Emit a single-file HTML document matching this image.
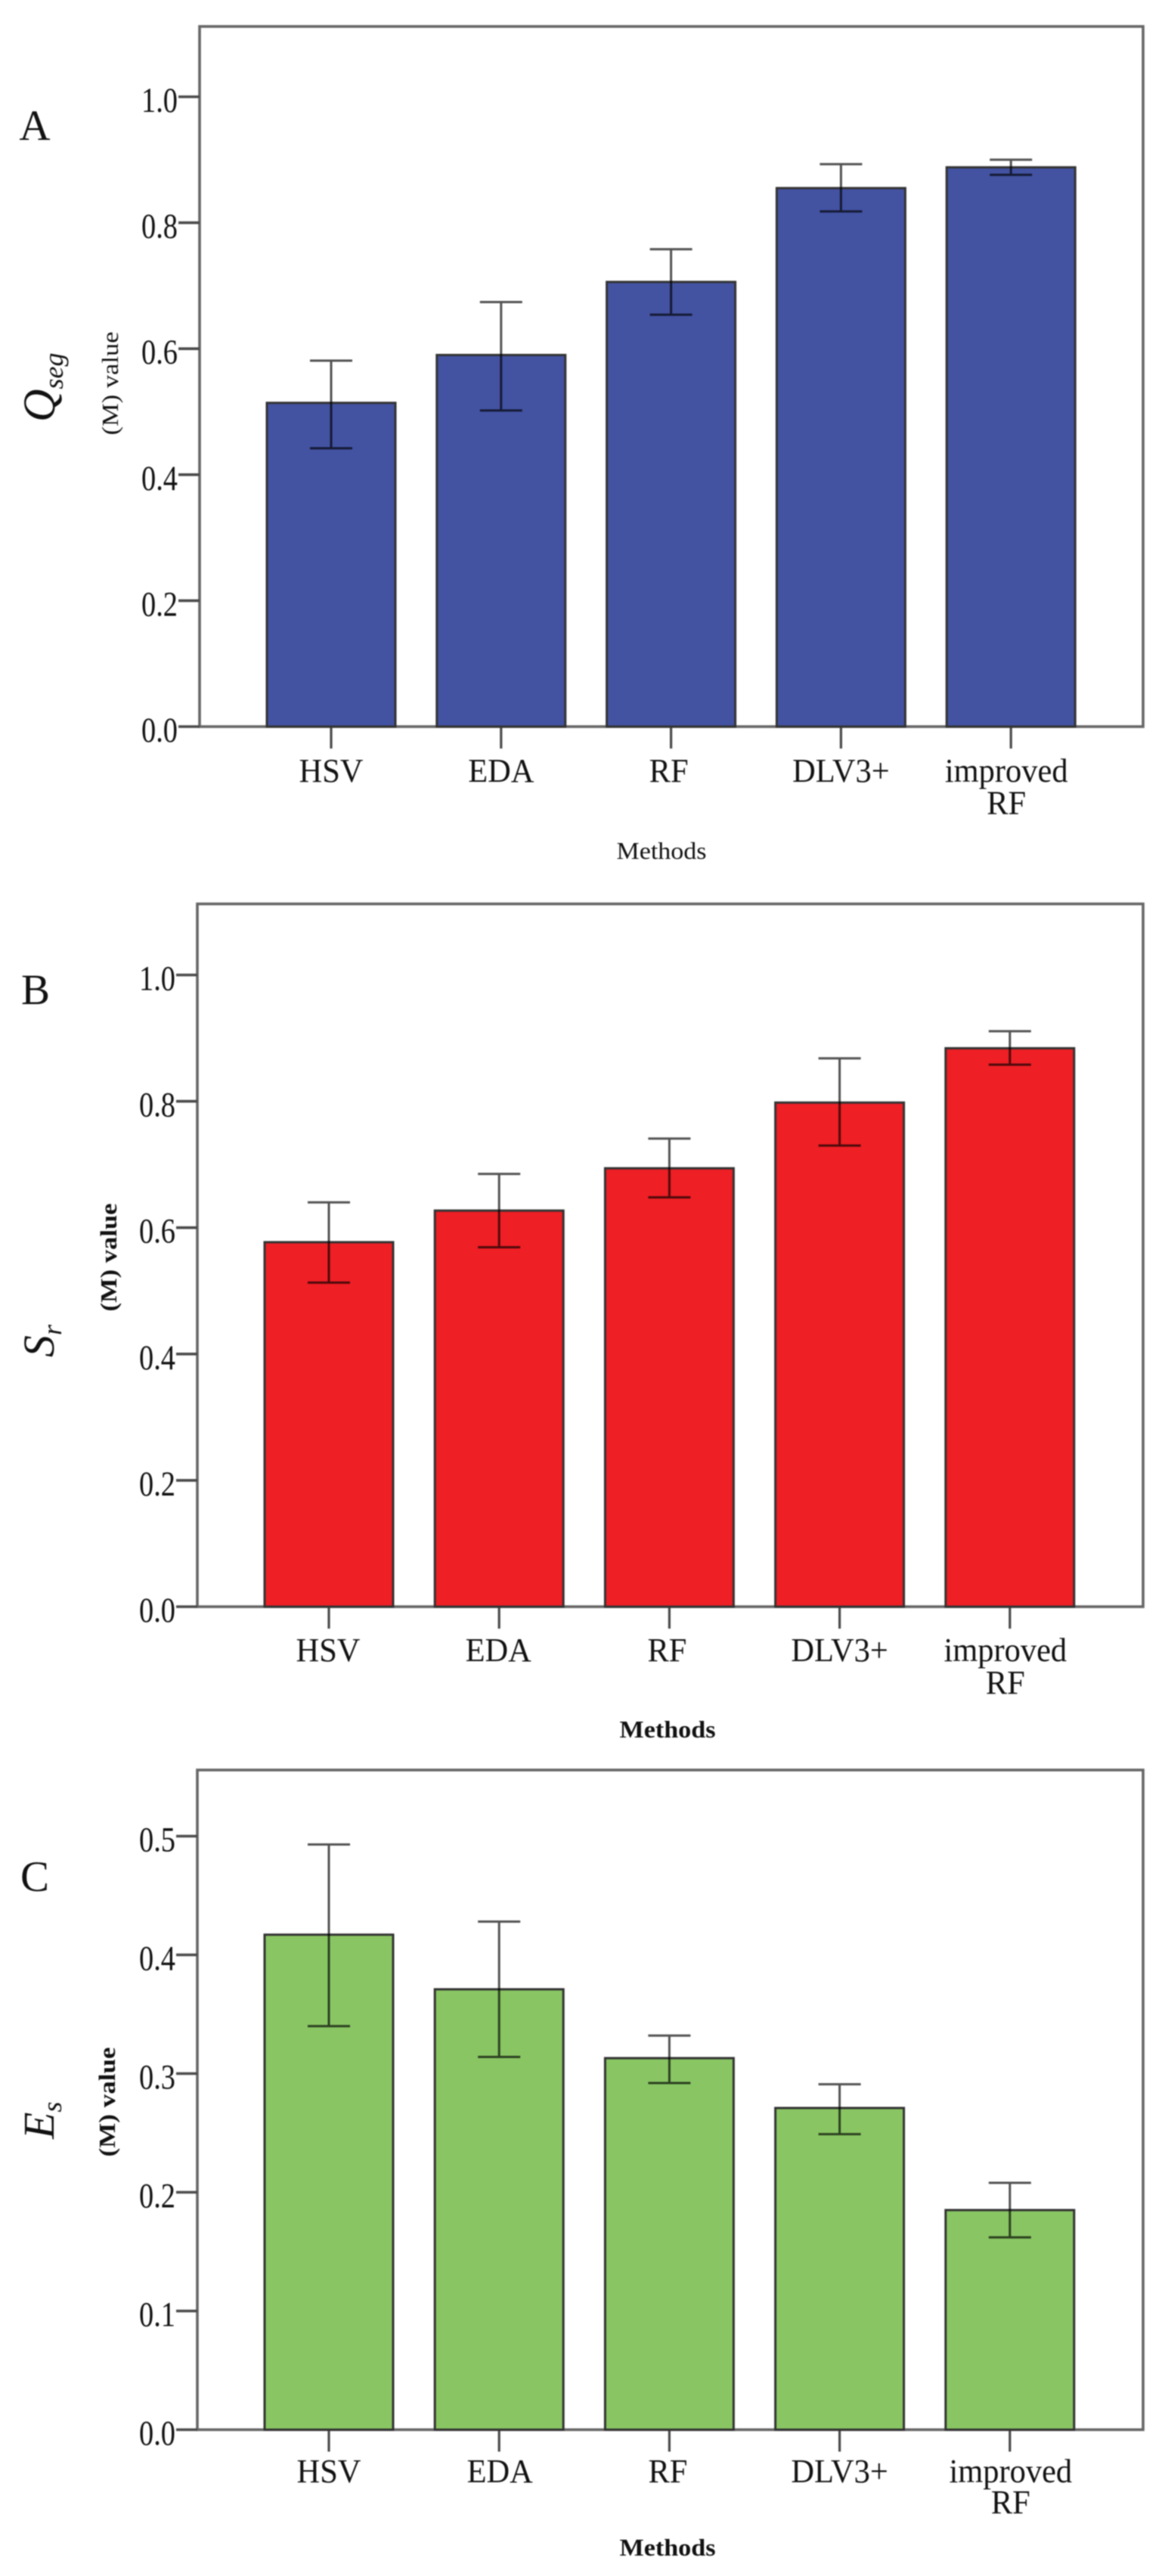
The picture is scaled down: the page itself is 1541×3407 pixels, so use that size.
<!DOCTYPE html>
<html lang="en">
<head>
<meta charset="utf-8">
<title>Segmentation method comparison</title>
<style>
html,body{margin:0;padding:0;background:#fff;width:1541px;height:3407px;overflow:hidden}
svg{display:block;filter:blur(0.9px)}
text{font-family:"Liberation Serif","Times New Roman",serif;fill:#111}
</style>
</head>
<body>
<svg id="figure" xmlns="http://www.w3.org/2000/svg" width="1541" height="3407" viewBox="0 0 1541 3407"></svg>
<script>
const categories = ['HSV', 'EDA', 'RF', 'DLV3+', 'improved RF'];
const tickLabelsUnit = [0.0, 0.2, 0.4, 0.6, 0.8, 1.0];
const tickLabelsEs = [0.0, 0.1, 0.2, 0.3, 0.4, 0.5];

const qsegValues = [0.514, 0.590, 0.706, 0.855, 0.888];
const qsegUpper = [0.581, 0.674, 0.758, 0.893, 0.900];
const qsegLower = [0.442, 0.502, 0.654, 0.818, 0.876];

const srValues = [0.577, 0.627, 0.694, 0.798, 0.884];
const srUpper = [0.640, 0.685, 0.741, 0.868, 0.911];
const srLower = [0.513, 0.569, 0.648, 0.730, 0.858];

const esValues = [0.417, 0.371, 0.313, 0.271, 0.185];
const esUpper = [0.493, 0.428, 0.332, 0.291, 0.208];
const esLower = [0.340, 0.314, 0.292, 0.249, 0.162];

const NS = 'http://www.w3.org/2000/svg';
const root = document.getElementById('figure');

function make(tag, attrs, parent, content) {
  const el = document.createElementNS(NS, tag);
  for (const k in attrs) el.setAttribute(k, attrs[k]);
  if (content !== undefined) el.textContent = content;
  parent.appendChild(el);
  return el;
}

function drawPanel(p) {
  const g = make('g', {}, root);
  
  

  const unit = p.pxPerUnit;
  const yScale = v => p.y0 - v * unit;
  const xScale = i => p.left + p.pad + i * p.band;

  const frame = make('rect', {x: p.left, y: p.top, width: p.right - p.left, height: p.y0 - p.top,
    fill: '#fff', stroke: '#666', 'stroke-width': 3.6}, g);
  
  

  p.ticks.forEach(t => {
    const y = yScale(t);
    const tick = make('line', {x1: p.left - 28, x2: p.left, y1: y, y2: y, stroke: '#4a4a4a', 'stroke-width': 3.6}, g);
    
    
    const lab = make('text', {x: 0, y: 0, 'font-size': 47, 'text-anchor': 'end',
      textLength: 48, lengthAdjust: 'spacingAndGlyphs',
      transform: 'translate(' + (p.left - 29) + ',' + (y + 20) + ')'}, g, t.toFixed(1));
    
    
  });

  categories.forEach((c, i) => {
    const cx = xScale(i);
    const tick = make('line', {x1: cx, x2: cx, y1: p.y0, y2: p.y0 + 29, stroke: '#4a4a4a', 'stroke-width': 3.2}, g);
    
    

    const bar = make('rect', {x: cx - p.barWidth / 2, y: yScale(p.values[i]), width: p.barWidth,
      height: unit * p.values[i], fill: p.color, stroke: '#333', 'stroke-width': 3}, g);
    
    

    const yu = yScale(p.upper[i]);
    const yl = yScale(p.lower[i]);
    const eb = make('path', {d: 'M' + (cx - 28) + ' ' + yu + 'H' + (cx + 28) + 'M' + cx + ' ' + yu + 'V' + yl + 'M' + (cx - 28) + ' ' + yl + 'H' + (cx + 28),
      fill: 'none', stroke: '#000', 'stroke-opacity': 0.68, 'stroke-width': 3}, g);
    
    

    const words = c.split(' ');
    words.forEach((w, k) => {
      const lab = make('text', {x: 0, y: 0, 'font-size': 44, 'text-anchor': 'middle',
        transform: 'translate(' + (cx + p.catShift[i]) + ',' + (p.catBase + k * p.catGap) + ') scale(0.965,1)'}, g, w);
      
      
    });
  });

  const xTitle = make('text', {x: p.xTitleX, y: p.xTitleY, 'font-size': p.xTitleSize, 'text-anchor': 'middle',
    'font-weight': p.bold ? 'bold' : 'normal', textLength: p.xTitleLen, lengthAdjust: 'spacingAndGlyphs'}, g, 'Methods');
  
  

  const yTitle = make('text', {x: 0, y: 0, 'font-size': 31, 'text-anchor': 'middle',
    'font-weight': p.bold ? 'bold' : 'normal', textLength: p.yTitleLen, lengthAdjust: 'spacingAndGlyphs',
    transform: 'translate(' + p.yTitleX + ',' + p.yTitleY + ') rotate(-90)'}, g, '(M) value');
  
  

  const sym = make('text', {x: 0, y: 0, 'font-style': 'italic', 'font-size': p.symSize,
    transform: 'translate(' + p.symX + ',' + p.symY + ') rotate(-90)'}, g);
  
  
  make('tspan', {}, sym, p.symMain);
  make('tspan', {'font-size': p.subSize, dy: p.subDy}, sym, p.symSub);

  const letter = make('text', {x: p.letterX, y: p.letterY, 'font-size': 57, 'text-anchor': 'middle'}, g, p.letter);
  
  
}

drawPanel({
  key: 'qseg', color: '#4353a2', values: qsegValues, upper: qsegUpper, lower: qsegLower, ticks: tickLabelsUnit,
  left: 264, right: 1512, top: 35, y0: 961, pxPerUnit: 833, pad: 174, band: 224.8, barWidth: 170,
  catBase: 1034, catGap: 42.5, catShift: [0, 0, -3, 0, -6],
  xTitleX: 875, xTitleY: 1136, xTitleSize: 32, xTitleLen: 119, bold: false,
  yTitleX: 156, yTitleY: 507, yTitleLen: 137,
  symX: 72, symY: 558, symSize: 60, subSize: 36, subDy: 11, symMain: 'Q', symSub: 'seg',
  letter: 'A', letterX: 46, letterY: 185
});
drawPanel({
  key: 'sr', color: '#ee1f25', values: srValues, upper: srUpper, lower: srLower, ticks: tickLabelsUnit,
  left: 261, right: 1512, top: 1195.5, y0: 2125, pxPerUnit: 835.5, pad: 174, band: 225.2, barWidth: 170,
  catBase: 2197, catGap: 43, catShift: [-1, -1, -3, 0, -6],
  xTitleX: 883, xTitleY: 2298, xTitleSize: 32, xTitleLen: 127, bold: true,
  yTitleX: 154, yTitleY: 1663, yTitleLen: 143,
  symX: 71, symY: 1795, symSize: 58, subSize: 36, subDy: 10, symMain: 'S', symSub: 'r',
  letter: 'B', letterX: 47, letterY: 1328
});
drawPanel({
  key: 'es', color: '#89c663', values: esValues, upper: esUpper, lower: esLower, ticks: tickLabelsEs,
  left: 261, right: 1512, top: 2341, y0: 3213.5, pxPerUnit: 1570, pad: 174, band: 225.2, barWidth: 170,
  catBase: 3283, catGap: 41, catShift: [0, 1, -2, 0, 1],
  xTitleX: 883, xTitleY: 3380, xTitleSize: 32, xTitleLen: 127, bold: true,
  yTitleX: 152, yTitleY: 2780, yTitleLen: 145,
  symX: 71, symY: 2829, symSize: 58, subSize: 36, subDy: 10, symMain: 'E', symSub: 's',
  letter: 'C', letterX: 46, letterY: 2501
});
</script>
</body>
</html>
